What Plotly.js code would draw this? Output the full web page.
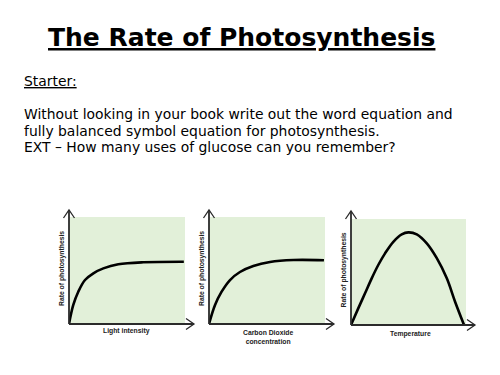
<!DOCTYPE html>
<html><head><meta charset="utf-8">
<script src="https://cdn.plot.ly/plotly-3.0.1.min.js"></script>
<style>html,body{margin:0;padding:0;background:#fff;}#chart{width:500px;height:375px;}</style>
</head><body><div id="chart"></div>
<script>
// ---- data ----
const lightX = [0, 0.37, 0.8, 1.38, 2.1, 2.96, 4.25, 6.4, 9.9];
const lightY = [0, 1.78, 3.02, 4.11, 4.74, 5.2, 5.58, 5.77, 5.82];
const co2X = [0, 0.52, 1.09, 1.81, 2.67, 3.82, 5.26, 7.27, 9.91];
const co2Y = [0, 1.78, 3.02, 4.11, 4.86, 5.42, 5.8, 5.98, 5.96];
const tempX = [0, 0.63, 1.22, 1.8, 2.37, 2.96, 3.68, 4.41, 4.99, 5.72, 6.59, 7.46, 8.33, 9.05, 9.83];
const tempY = [0, 1.57, 2.99, 4.4, 5.66, 6.76, 7.85, 8.55, 8.74, 8.55, 7.7, 6.3, 4.4, 2.2, 0];
const yLabel = "Rate of photosynthesis";
const xLabels = ["Light intensity", "Carbon Dioxide<br>concentration", "Temperature"];
const titleText = "The Rate of Photosynthesis";
const starterText = "Starter:";
const bodyLines = [
  "Without looking in your book write out the word equation and",
  "fully balanced symbol equation for photosynthesis.",
  "EXT \u2013 How many uses of glucose can you remember?"
];

// ---- layout helpers ----
const W = 500, H = 375;
const px = x => x / W;
const py = y => 1 - y / H;
const boxes = [
  {x0: 69, x1: 185, y0: 217, y1: 324, ytip: 210, xtip: 194, labY: 331, labX: 126},
  {x0: 209, x1: 325, y0: 217, y1: 324, ytip: 210, xtip: 334, labY: 336.5, labX: 268},
  {x0: 351, x1: 466, y0: 219, y1: 325, ytip: 211, xtip: 475, labY: 334, labX: 410}
];
const series = [[lightX, lightY], [co2X, co2Y], [tempX, tempY]];
const green = '#e2f0d9';
const axisCol = '#2b2b2b';

const traces = series.map((s, i) => ({
  x: s[0], y: s[1], type: 'scatter', mode: 'lines',
  line: {color: '#000', width: 2.6, shape: 'spline', smoothing: 1},
  xaxis: i === 0 ? 'x' : 'x' + (i + 1), yaxis: i === 0 ? 'y' : 'y' + (i + 1),
  hoverinfo: 'skip', showlegend: false, cliponaxis: false
}));

const layout = {
  width: W, height: H, margin: {l: 0, r: 0, t: 0, b: 0},
  paper_bgcolor: '#fff', plot_bgcolor: green, showlegend: false,
  shapes: [], annotations: []
};
boxes.forEach((b, i) => {
  const sx = i === 0 ? '' : String(i + 1);
  const ax = {domain: [px(b.x0), px(b.x1)], range: [0, 10], showgrid: false, zeroline: false,
    showticklabels: false, ticks: '', showline: false, fixedrange: true};
  const ay = {domain: [py(b.y1), py(b.y0)], range: [0, 10], showgrid: false, zeroline: false,
    showticklabels: false, ticks: '', showline: false, fixedrange: true};
  if (i > 0) { ax.anchor = 'y' + sx; ay.anchor = 'x' + sx; }
  layout['xaxis' + sx] = ax;
  layout['yaxis' + sx] = ay;
  const ln = {color: axisCol, width: 1.8};
  const ox = b.x0, oy = b.y1;
  // axes with open arrow heads
  layout.shapes.push({type: 'line', xref: 'paper', yref: 'paper', x0: px(ox), y0: py(oy), x1: px(ox), y1: py(b.ytip), line: ln});
  layout.shapes.push({type: 'line', xref: 'paper', yref: 'paper', x0: px(ox), y0: py(oy), x1: px(b.xtip), y1: py(oy), line: ln});
  layout.shapes.push({type: 'path', xref: 'paper', yref: 'paper',
    path: `M ${px(ox-5.5)} ${py(b.ytip+8)} L ${px(ox)} ${py(b.ytip)} L ${px(ox+5.5)} ${py(b.ytip+8)}`, line: {color: axisCol, width: 1.3}});
  layout.shapes.push({type: 'path', xref: 'paper', yref: 'paper',
    path: `M ${px(b.xtip-8)} ${py(oy-5.5)} L ${px(b.xtip)} ${py(oy)} L ${px(b.xtip-8)} ${py(oy+5.5)}`, line: {color: axisCol, width: 1.3}});
  layout.annotations.push({xref: 'paper', yref: 'paper', x: px(ox - 7.5), y: py((b.y0 + b.y1) / 2 - 2),
    text: '<b>' + yLabel + '</b>', textangle: -90, showarrow: false, xanchor: 'center', yanchor: 'middle',
    font: {family: 'Liberation Sans, Arial', size: 6.8, color: '#222'}});
  layout.annotations.push({xref: 'paper', yref: 'paper', x: px(b.labX), y: py(b.labY),
    text: '<b>' + xLabels[i].split('<br>').join('</b><br><b>') + '</b>', showarrow: false, xanchor: 'center', yanchor: 'middle',
    font: {family: 'Liberation Sans, Arial', size: 6.8, color: '#222'}});
});
layout.annotations.push({xref: 'paper', yref: 'paper', x: px(241.5), y: py(37), xanchor: 'center', yanchor: 'middle',
  text: '<b><u>' + titleText + '</u></b>', showarrow: false,
  font: {family: 'DejaVu Sans', size: 25, color: '#000'}});
layout.annotations.push({xref: 'paper', yref: 'paper', x: px(22), y: py(81), xanchor: 'left', yanchor: 'middle',
  text: '<u>' + starterText + '</u>', showarrow: false,
  font: {family: 'DejaVu Sans', size: 13.9, color: '#000'}});
bodyLines.forEach((t, i) => {
  layout.annotations.push({xref: 'paper', yref: 'paper', x: px(22), y: py(114 + i * 16.6), xanchor: 'left', yanchor: 'middle',
    text: t, showarrow: false, font: {family: 'DejaVu Sans', size: 13.9, color: '#000'}});
});
Plotly.newPlot('chart', traces, layout, {staticPlot: true, displayModeBar: false});
</script></body></html>
